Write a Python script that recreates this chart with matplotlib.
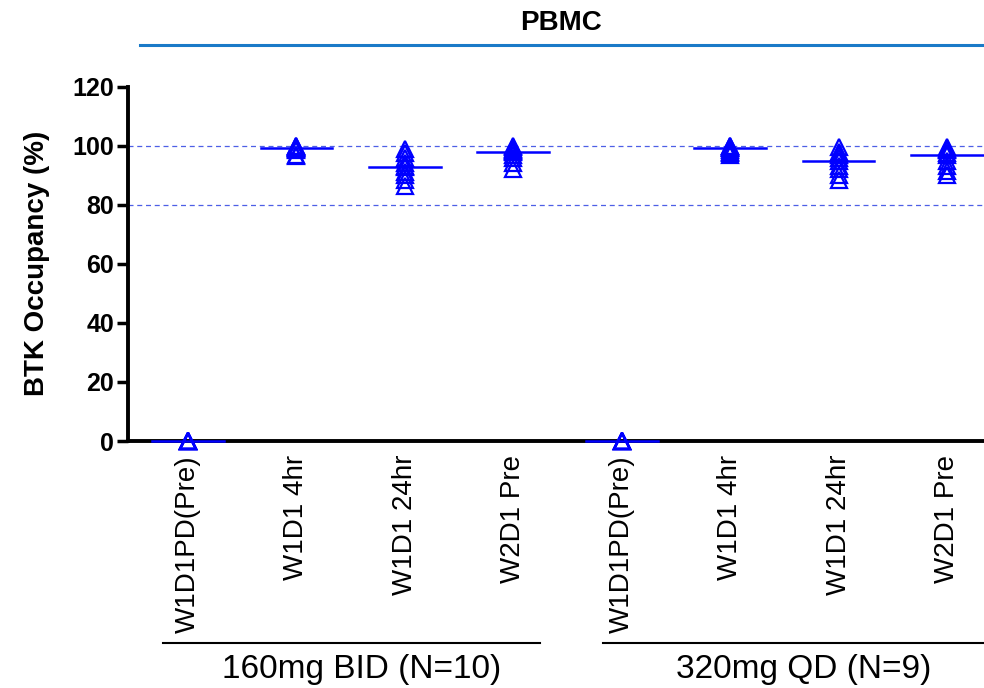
import matplotlib.pyplot as plt
import numpy as np
from matplotlib.lines import Line2D

plt.rcParams['font.family'] = ['Liberation Sans', 'DejaVu Sans']

# tick labels along the x axis
timepoints = ["W1D1PD(Pre)", "W1D1 4hr", "W1D1 24hr", "W2D1 Pre",
              "W1D1PD(Pre)", "W1D1 4hr", "W1D1 24hr", "W2D1 Pre"]
groups = ["160mg BID (N=10)", "320mg QD (N=9)"]

# BTK occupancy (%) per subject
bid_pre = [0] * 10
bid_4hr = [100, 99.8, 99.6, 99.5, 99.4, 99.2, 99.0, 98.5, 97.0, 96.5]
bid_24hr = [99.0, 97.5, 96.0, 94.0, 93.0, 92.8, 91.0, 90.0, 88.5, 86.5]
bid_w2 = [100, 99.5, 99.0, 98.5, 98.2, 97.8, 97.0, 96.0, 94.0, 92.2]
qd_pre = [0] * 9
qd_4hr = [100, 99.8, 99.6, 99.4, 99.3, 98.5, 98.0, 97.5, 97.0]
qd_24hr = [99.5, 98.0, 97.0, 96.0, 95.0, 93.0, 92.0, 90.0, 88.5]
qd_w2 = [99.5, 99.0, 98.5, 97.5, 97.0, 95.0, 93.0, 91.5, 90.0]

series = [bid_pre, bid_4hr, bid_24hr, bid_w2, qd_pre, qd_4hr, qd_24hr, qd_w2]
ref_lines = [100, 80]

blue = '#0000ff'

fig = plt.figure(figsize=(9.84, 6.88), dpi=100)
ax = fig.add_axes([0.130, 0.359, 0.870, 0.515])

for y in ref_lines:
    ax.axhline(y, color='#4d5fe6', lw=0.9, ls=(0, (4, 3)), zorder=1)

for i, vals in enumerate(series):
    ax.plot([i] * len(vals), vals, ls='none', marker='^', ms=11,
            mfc='none', mec=blue, mew=1.6, clip_on=False, zorder=3)
    med = np.median(vals)
    ax.plot([i - 0.33, i + 0.33], [med, med], color=blue, lw=1.8,
            clip_on=False, zorder=3)

ax.set_xlim(-0.553, 7.34)
ax.set_ylim(0, 120)
ax.set_yticks([0, 20, 40, 60, 80, 100, 120])
ax.set_xticks(range(len(timepoints)))
ax.set_xticklabels(timepoints, rotation=90, fontsize=20)
ax.tick_params(axis='x', length=0, pad=10)
ax.tick_params(axis='y', length=8, width=2.5, labelsize=18, pad=2)
for lab in ax.get_yticklabels():
    lab.set_fontweight('bold')
ax.set_ylabel('BTK Occupancy (%)', fontsize=20, fontweight='bold', labelpad=16)

for s in ['top', 'right']:
    ax.spines[s].set_visible(False)
for s in ['left', 'bottom']:
    ax.spines[s].set_linewidth(2.8)

# group brackets under the tick labels
spans = [(-0.23, 3.25), (3.83, 7.34)]
centers = [1.6, 5.68]
for (x0, x1), cx, name in zip(spans, centers, groups):
    ax.plot([x0, x1], [-0.571, -0.571], color='black', lw=1.5,
            transform=ax.get_xaxis_transform(), clip_on=False)
    ax.text(cx, -0.645, name, fontsize=24, ha='center', va='center',
            transform=ax.get_xaxis_transform())

# title with line beneath
fig.text(0.57, 0.967, 'PBMC', fontsize=20, fontweight='bold',
         ha='center', va='center')
fig.add_artist(Line2D([0.142, 1.0], [0.934, 0.934], color='#1a7ac8', lw=2.2))

plt.savefig('out.png', dpi=100)
